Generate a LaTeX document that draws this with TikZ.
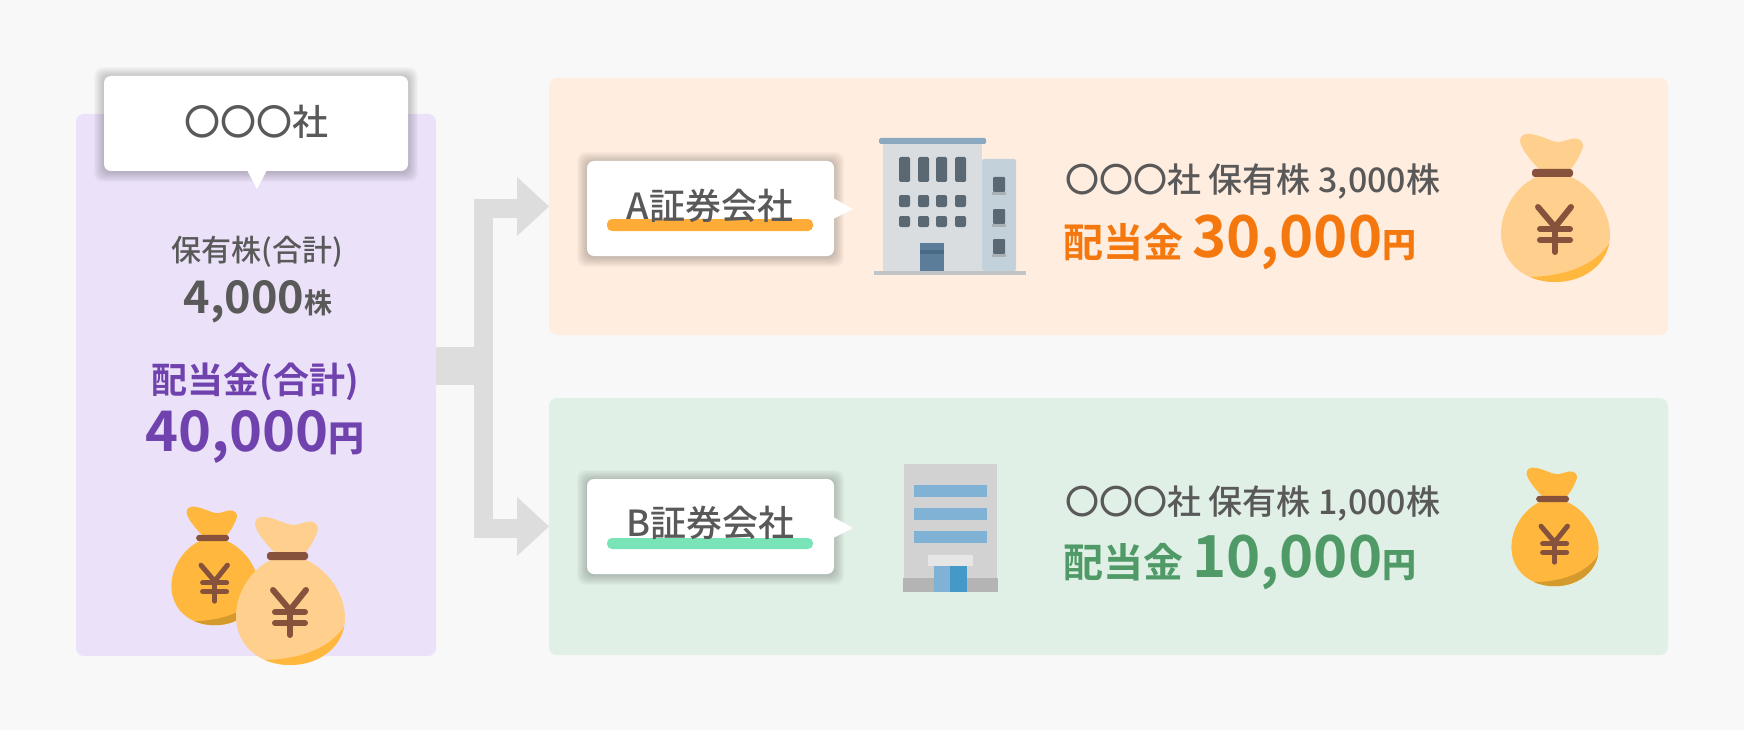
\documentclass[tikz,border=0pt]{standalone}
\usepackage{fontspec}
\setmainfont[BoldFont={Noto Sans CJK JP Bold}]{Noto Sans CJK JP}
\newfontfamily\medf{Noto Sans CJK JP Medium}
\usetikzlibrary{calc}
\definecolor{pagebg}{HTML}{F8F8F8}
\definecolor{violetbg}{HTML}{EBE1F9}
\definecolor{orangebg}{HTML}{FFEDDF}
\definecolor{greenbg}{HTML}{E1F0E6}
\definecolor{conn}{HTML}{DDDDDD}
\definecolor{ink}{HTML}{595959}
\definecolor{violetink}{HTML}{6F42AD}
\definecolor{orangeink}{HTML}{F5780F}
\definecolor{greenink}{HTML}{4F9A66}
\definecolor{bagpale}{HTML}{FFCF8D}
\definecolor{baggold}{HTML}{FFB83D}
\definecolor{bagdark}{HTML}{D49A2E}
\definecolor{bagbrown}{HTML}{86523B}
\definecolor{ulorange}{HTML}{FFAB38}
\definecolor{ulgreen}{HTML}{78E4B8}
\definecolor{bwall}{HTML}{D9DDE0}
\definecolor{bside}{HTML}{C3D2DA}
\definecolor{broof}{HTML}{8AA9C0}
\definecolor{bground}{HTML}{C0C4C6}
\definecolor{bwin}{HTML}{5A6873}
\definecolor{bsill}{HTML}{A9B1B5}
\definecolor{bdoor}{HTML}{5B7D99}
\definecolor{bdoord}{HTML}{4A6B85}
\definecolor{cwall}{HTML}{D2D2D2}
\definecolor{cbase}{HTML}{B4B4B4}
\definecolor{cwin}{HTML}{7FB2D5}
\definecolor{ccanopy}{HTML}{E6E6E6}
\definecolor{cdoor}{HTML}{4499C9}
\newcommand{\fs}[1]{\fontsize{#1}{#1}\selectfont}
\newcommand{\bagbody}{(-17,4) .. controls (-38,14) and (-52,38) .. (-52,60)
     .. controls (-52,90) and (-28,109) .. (2,109)
     .. controls (34,109) and (57,88) .. (57,62)
     .. controls (57,38) and (40,14) .. (18,4) -- cycle}
\tikzset{
 x=1pt,y=-1pt,
 txt/.style={inner sep=0pt,text=ink},
 yenline/.style={draw=bagbrown,line cap=round,line join=round},
 pics/moneybag/.style n args={3}{code={
  \fill[#1] \bagbody;
  \begin{scope}
   \clip \bagbody;
   \fill[#2] (60,64) .. controls (48,88) and (20,103) .. (-24,104) -- (-24,115) -- (62,115) -- cycle;
  \end{scope}
  \fill[#1] (-13,-3) .. controls (-22,-12) and (-32,-24) .. (-33,-32)
     .. controls (-33,-38) and (-28,-40) .. (-22,-39)
     .. controls (-10,-37) and (-2,-31) .. (6,-31)
     .. controls (14,-32) and (20,-36) .. (25,-34)
     .. controls (31,-32) and (31,-26) .. (28,-21)
     .. controls (25,-14) and (22,-9) .. (17,-3) -- cycle;
  \fill[bagbrown,rounded corners=3pt] (-21,-4) rectangle (20,4);
  \draw[yenline,line width=#3] (-15,34) -- (2,54) -- (18,34);
  \draw[yenline,line width=#3] (2,54) -- (2,79);
  \draw[yenline,line width=#3] (-13,56) -- (17,56);
  \draw[yenline,line width=#3] (-13,67) -- (17,67);
 }},
}
\newcommand{\softshadow}[4]{%
 \foreach \s in {1,...,9}{\fill[black,opacity=0.022,rounded corners=8pt]
   (#1-\s*1.1,#2-\s*1.1+1) rectangle (#3+\s*1.1,#4+\s*1.1+1);}}
\begin{document}
\begin{tikzpicture}
\useasboundingbox (0,0) rectangle (1744,730);
\fill[pagebg] (0,0) rectangle (1744,730);

% panels
\fill[violetbg,rounded corners=8pt] (76,114) rectangle (436,656);
\coordinate (pL) at (436,366);
\coordinate (junction) at (483.5,366);
\fill[orangebg,rounded corners=8pt] (549,78) rectangle (1668,335);
\coordinate (pA) at (549,206.5);
\fill[greenbg,rounded corners=8pt] (549,398) rectangle (1668,655);
\coordinate (pB) at (549,526.5);

% connectors
\draw[conn,line width=38pt] (pL) -- ($(junction)+(9.5,0)$);
\draw[conn,line width=19pt] (junction) |- ($(pA)+(-31,2)$);
\draw[conn,line width=19pt] (junction) |- ($(pB)+(-31,2)$);
\fill[conn] (pA) -- ($(pA)+(-32,-29.5)$) -- ($(pA)+(-32,29.5)$) -- cycle;
\fill[conn] (pB) -- ($(pB)+(-32,-29.5)$) -- ($(pB)+(-32,29.5)$) -- cycle;

% top callout
\softshadow{104}{76}{408}{171}
\fill[white,rounded corners=7pt] (104,76) rectangle (408,171);
\fill[white] (247,170) -- (267,170) -- (257,189) -- cycle;
\node[txt,font=\medf\fs{36}] (title) at (256,122) {〇〇〇社};

\node[txt,font=\medf\fs{30}] (lbl1) at (257,252) {保有株(合計)};
\node[txt,anchor=base,font=\bfseries\fs{45}] (val1) at (258,313) {4,000\fs{28}株};
\node[txt,text=violetink,font=\bfseries\fs{36}] (lbl2) at (255,382) {配当金(合計)};
\node[txt,text=violetink,anchor=base,font=\bfseries\fs{56}] (val2) at (255,451) {40,000\medf\fs{36}円};

\path (213,538) pic[scale=0.8] {moneybag={baggold}{bagdark}{5pt}};
\path (288,556) pic {moneybag={bagpale}{baggold}{6pt}};

% callout A
\softshadow{587}{161}{834}{256}
\fill[white,rounded corners=7pt] (587,161) rectangle (834,256);
\fill[white] (833,198) -- (853,209) -- (833,219) -- cycle;
\fill[ulorange,rounded corners=5pt] (607,219) rectangle (813,231);
\node[txt,font=\medf\fs{36}] (nameA) at (710,206) {A証券会社};

% callout B
\softshadow{587}{479}{834}{574}
\fill[white,rounded corners=7pt] (587,479) rectangle (834,574);
\fill[white] (833,517) -- (853,528) -- (833,538) -- cycle;
\fill[ulgreen,rounded corners=5pt] (607,538) rectangle (813,549);
\node[txt,font=\medf\fs{36}] (nameB) at (710,523) {B証券会社};

% building A
\fill[bground] (874,271) rectangle (1026,275);
\fill[bside,rounded corners=2pt] (982,159) -- (1016,159) -- (1016,271) -- (982,271) -- cycle;
\fill[bwall] (883,144) rectangle (982,271);
\fill[broof,rounded corners=1.5pt] (879,138) rectangle (986,144);
\foreach \wx in {899,918,936,955}{
  \fill[bwin,rounded corners=1.5pt] (\wx,157) rectangle (\wx+11,182);
  \fill[bwin,rounded corners=2pt] (\wx,195) rectangle (\wx+11,207);
  \fill[bwin,rounded corners=2pt] (\wx,216) rectangle (\wx+11,227);
}
\foreach \wy in {177,209,239}{
  \fill[bwin,rounded corners=1pt] (993,\wy) rectangle (1005,\wy+15);
  \fill[bsill] (992,\wy+15) rectangle (1006,\wy+18);
}
\fill[bdoor] (920,243) rectangle (944,271);
\fill[bdoord] (920,250) rectangle (944,254);

% building B
\fill[cwall] (904,464) rectangle (997,578);
\fill[cbase] (903,578) rectangle (998,592);
\foreach \wy in {485,508,531}{\fill[cwin] (914,\wy) rectangle (987,\wy+12);}
\fill[ccanopy] (928,555) rectangle (973,566);
\fill[cwin] (934,566) rectangle (950,592);
\fill[cdoor] (950,566) rectangle (967,592);

% right texts
\node[txt,anchor=base west,font=\medf\fs{34}] (infoA) at (1065,193) {〇〇〇社 保有株 3,000株};
\node[txt,anchor=base west,text=orangeink,font=\bfseries\fs{40}] (payA) at (1063,257)
  {配当金 \fs{58}30,000\medf\fs{34}円};
\path (1553,173) pic {moneybag={bagpale}{baggold}{6pt}};

\node[txt,anchor=base west,font=\medf\fs{34}] (infoB) at (1065,514) {〇〇〇社 保有株 1,000株};
\node[txt,anchor=base west,text=greenink,font=\bfseries\fs{40}] (payB) at (1063,577)
  {配当金 \fs{58}10,000\medf\fs{34}円};
\path (1553,499) pic[scale=0.8] {moneybag={baggold}{bagdark}{5pt}};
\end{tikzpicture}
\end{document}
